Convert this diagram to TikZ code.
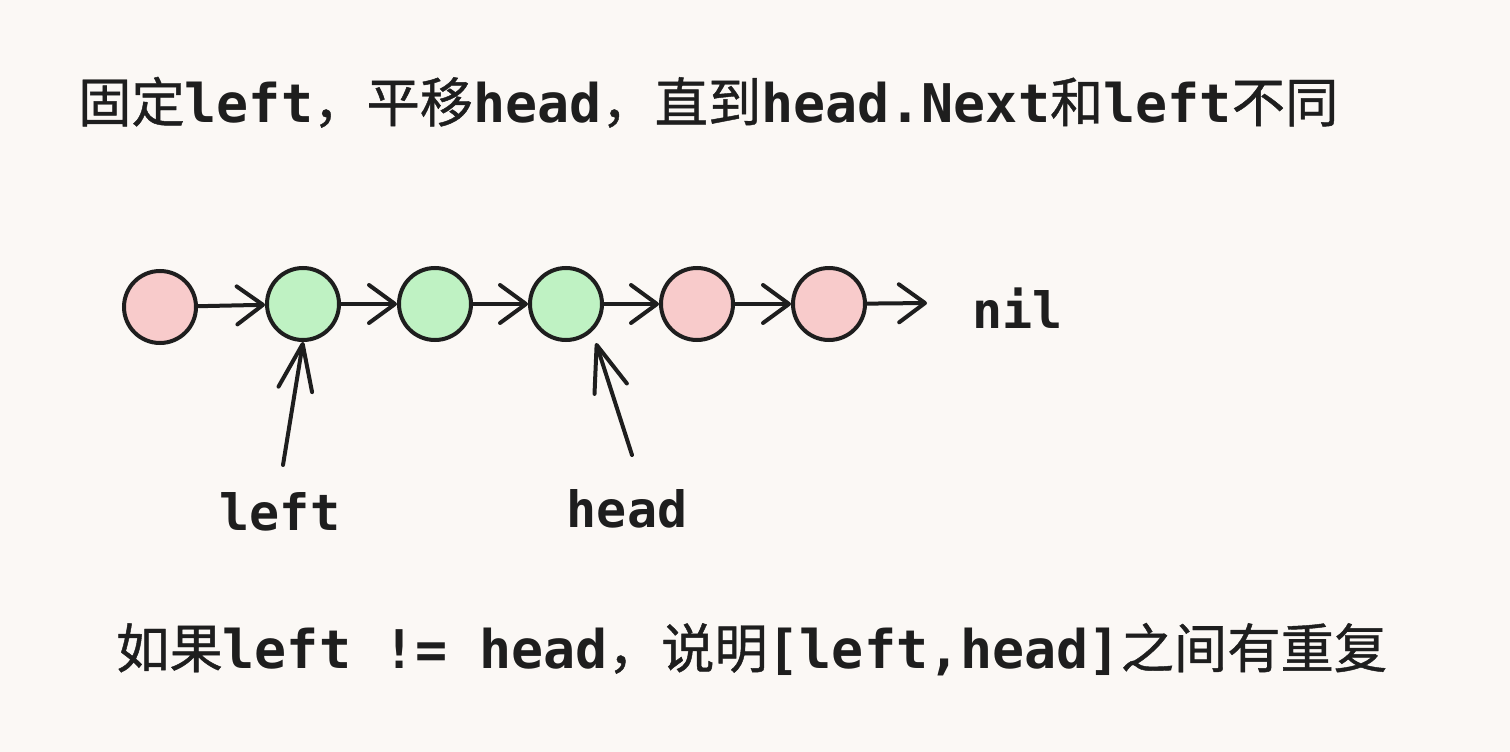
\documentclass[tikz,border=0pt]{standalone}
\usepackage{fontspec}
\setmonofont{DejaVu Sans Mono}
\newfontfamily\cjk[FakeBold=0.8]{Noto Sans CJK SC}
\usetikzlibrary{arrows.meta}
\definecolor{bg}{HTML}{FBF8F5}
\definecolor{ink}{HTML}{1E1E1E}
\definecolor{pinkfill}{HTML}{F8CBCB}
\definecolor{greenfill}{HTML}{BFF2C3}
\newcommand{\zh}[1]{{\cjk\mdseries #1}}
\tikzset{
  listnode/.style={circle, draw=ink, line width=4pt, minimum size=72pt, inner sep=0pt},
  pinknode/.style={listnode, fill=pinkfill},
  greennode/.style={listnode, fill=greenfill},
  link/.style={draw=ink, line width=4pt, line cap=round,
    -{Straight Barb[round, length=26pt, width=38pt]}},
  pointer/.style={draw=ink, line width=4pt, line cap=round,
    -{Straight Barb[round, length=46pt, width=34pt]}},
  bigtext/.style={text=ink, inner sep=0pt, font=\ttfamily\bfseries\fontsize{53.3}{60}\selectfont},
  labeltext/.style={text=ink, inner sep=0pt, font=\ttfamily\bfseries\fontsize{50}{56}\selectfont},
}
\begin{document}
\begin{tikzpicture}[x=1pt,y=-1pt]
\fill[bg] (0,0) rectangle (1510,752);
\useasboundingbox (0,0) rectangle (1510,752);

\node[bigtext, anchor=base west] (title) at (78,122)
  {\zh{固定}left\zh{，平移}head\zh{，直到}head.Next\zh{和}left\zh{不同}};

\node[pinknode]  (c1) at (160,307) {};
\node[greennode] (c2) at (303,304) {};
\node[greennode] (c3) at (435,304) {};
\node[greennode] (c4) at (566,304) {};
\node[pinknode]  (c5) at (697,304) {};
\node[pinknode]  (c6) at (829,304) {};

\node[labeltext, anchor=base west] (nil) at (972,328) {nil};
\coordinate (nilend) at (927,303);

\draw[link] (c1) -- (c2);
\draw[link] (c2) -- (c3);
\draw[link] (c3) -- (c4);
\draw[link] (c4) -- (c5);
\draw[link] (c5) -- (c6);
\draw[link] (c6) -- (nilend);

\node[labeltext, anchor=base] (leftlbl) at (280,530) {left};
\node[labeltext, anchor=base] (headlbl) at (627,527) {head};
\coordinate (lefttail) at (283,465);
\coordinate (headtail) at (632,455);
\coordinate (headtip) at (596,343);

\draw[pointer] (lefttail) -- (c2.south);
\draw[pointer] (headtail) -- (headtip);

\node[bigtext, anchor=base west] (note) at (116,668)
  {\zh{如果}left != head\zh{，说明}[left,head]\zh{之间有重复}};
\end{tikzpicture}
\end{document}
